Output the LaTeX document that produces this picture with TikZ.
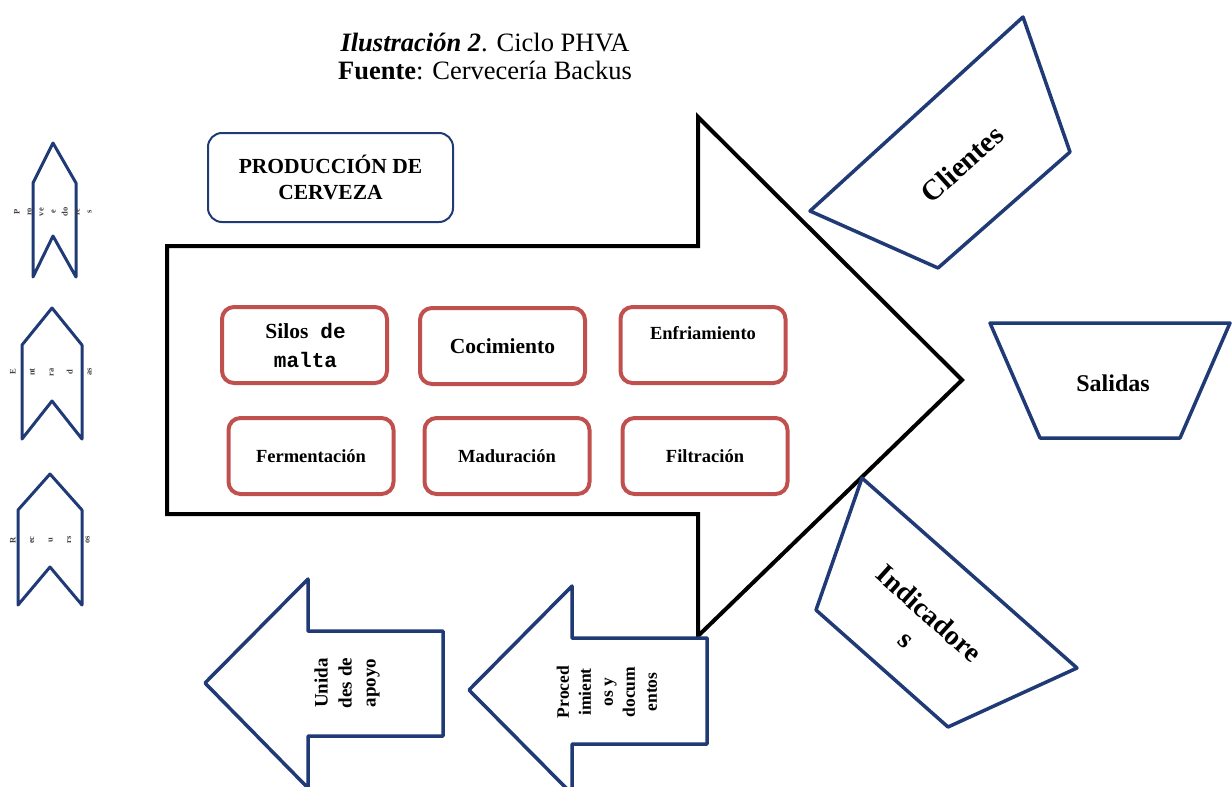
\documentclass[tikz,border=0pt]{standalone}
\usepackage{fontspec}
\setmainfont{Liberation Serif}
\setmonofont{Liberation Mono}
\usepackage{tikz}

\definecolor{navy}{HTML}{1F3A75}
\definecolor{brick}{HTML}{C0504D}

\begin{document}
\begin{tikzpicture}[x=1pt,y=-1pt,
    redbox/.style={draw=brick, line width=4pt, rounded corners=12pt, minimum width=165pt, minimum height=76pt},
    boxtext/.style={align=center, font=\bfseries\fontsize{18.5}{29}\selectfont},
    navyshape/.style={draw=navy, line width=3.5pt, fill=white, line join=round},
    chevron/.style={draw=navy, line width=3pt, line join=round},
    chevtext/.style={rotate=90, align=center, text=black!75, font=\bfseries\fontsize{8.5}{#1}\selectfont}]
                    \useasboundingbox (0,0) rectangle (1232,787);
                    \node[align=center, font=\fontsize{26.5}{28}\selectfont] (titulo) at (485,56) {\textbf{\textit{Ilustración 2}}. Ciclo PHVA\\\textbf{Fuente}: Cervecería Backus};
                    \draw[black, line width=4pt] (167,246) -- (698,246) -- (698,117) -- (962,380) -- (698,636) -- (698,514) -- (167,514) -- cycle;
                    \node[draw=navy, line width=2pt, rounded corners=14pt, minimum width=245pt, minimum height=89pt, align=center, font=\bfseries\fontsize{21.5}{26}\selectfont] (produccion) at (330.5,177.5) {PRODUCCIÓN DE\\CERVEZA};
                    \node[redbox] (silos) at (304.5,345) {};
                    \node[boxtext, font=\bfseries\fontsize{21.5}{29}\selectfont] at ([xshift=1pt]silos.center) {Silos\hspace{12pt}{\ttfamily\fontsize{21}{29}\selectfont de}\\{\ttfamily\fontsize{21}{29}\selectfont malta}};
                    \node[redbox, boxtext, font=\bfseries\fontsize{21.5}{29}\selectfont] (cocimiento) at (502.5,346) {Cocimiento};
                    \node[redbox] (enfriamiento) at (703,345) {};
                    \node[boxtext] at ([yshift=12pt]enfriamiento.center) {Enfriamiento};
                    \node[redbox, boxtext] (fermentacion) at (311,456) {Fermentación};
                    \node[redbox, boxtext] (maduracion) at (507,456) {Maduración};
                    \node[redbox, boxtext] (filtracion) at (705,456) {Filtración};
                    \draw[chevron] (33,277) -- (33,183) -- (53,143) -- (76,183) -- (76,277) -- (53,236) -- cycle;
                    \node[chevtext=12] (proveedores) at (53,212) {P\\ro\\ve\\e\\do\\re\\s};
                    \draw[chevron] (22,439) -- (22,345) -- (52,308) -- (82,345) -- (82,439) -- (52,401) -- cycle;
                    \node[chevtext=19] (entradas) at (51,372) {E\\nt\\ra\\d\\as};
                    \draw[chevron] (18,605) -- (18,510) -- (50,474) -- (82,510) -- (82,605) -- (50,567) -- cycle;
                    \node[chevtext=18.5] (recursos) at (50,540) {R\\ec\\u\\rs\\os};
                    \draw[navyshape] (810,211) -- (1023,17) -- (1070,152) -- (938,268) -- cycle;
                    \node[rotate=42, font=\bfseries\fontsize{29}{34}\selectfont] (clientes) at (962,164) {Clientes};
                    \draw[navyshape] (990,323) -- (1230,323) -- (1180,438) -- (1040,438) -- cycle;
                    \node[font=\bfseries\fontsize{24}{26}\selectfont] (salidas) at (1113,383) {Salidas};
                    \draw[navyshape] (862,478) -- (1077,668) -- (948,727) -- (816,610) -- cycle;
                    \node[rotate=-42, align=center, font=\bfseries\fontsize{28}{34}\selectfont] (indicadores) at (918,626) {Indicadore\\s};
                    \draw[navyshape] (205,683) -- (308,579) -- (308,631) -- (443,631) -- (443,736) -- (308,736) -- (308,788) -- cycle;
                    \node[rotate=90, align=center, font=\bfseries\fontsize{19}{24}\selectfont] (unidades) at (347,683) {Unida\\des de\\apoyo};
                    \draw[navyshape] (469,690) -- (572,586) -- (572,638) -- (707,638) -- (707,744) -- (572,744) -- (572,794) -- cycle;
                    \node[rotate=90, align=center, font=\bfseries\fontsize{17.5}{22}\selectfont] (procedimientos) at (607,692) {Proced\\imient\\os y\\docum\\entos};
                \end{tikzpicture}
\end{document}
